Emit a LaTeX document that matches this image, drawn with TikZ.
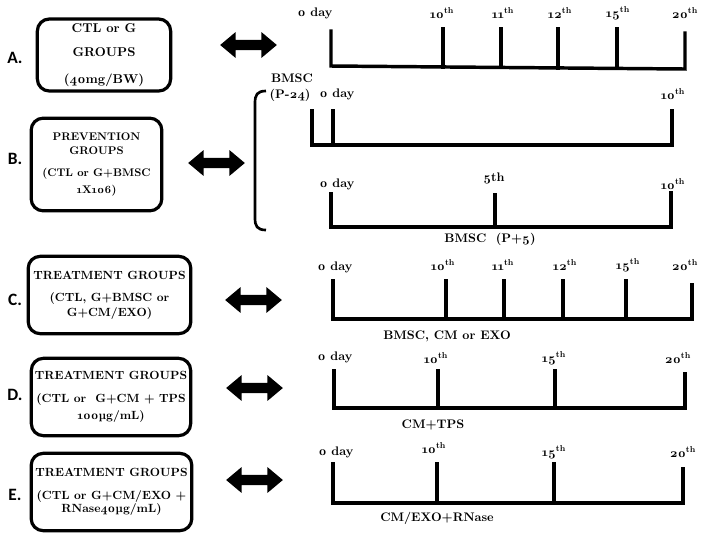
\documentclass[tikz,border=0pt]{standalone}
\usepackage{fontspec}
\setmainfont{lmroman10}[Extension=.otf, UprightFont=*-regular, BoldFont=*-bold, ItalicFont=*-italic, Numbers=OldStyle]
\newfontfamily\lblfont{Carlito}
\usetikzlibrary{shapes.arrows}
\tikzset{
  grpbox/.style={draw, line width=2.4pt, rounded corners=9pt, align=center, inner sep=0pt,
    font=\fontsize{8.9}{10}\selectfont\bfseries},
  tl/.style={line width=2.6pt, line cap=rect},
  daylbl/.style={font=\fontsize{9.3}{10}\selectfont\bfseries, inner sep=0pt},
  notelbl/.style={font=\fontsize{9.3}{10}\selectfont\bfseries, inner sep=0pt},
  rowlbl/.style={font=\lblfont\bfseries\fontsize{13}{15}\selectfont, inner sep=0pt},
  dbl/.style={double arrow, fill=black, draw=none, minimum height=42.5pt, minimum width=19pt,
    inner sep=3.7pt, double arrow head extend=5.8pt, double arrow tip angle=80},
}
\newcommand{\dth}[1]{#1\textsuperscript{th}}
\begin{document}
\begin{tikzpicture}[x=0.75pt,y=-0.75pt]
\useasboundingbox (0,0) rectangle (704,537);

% ---------- row labels ----------
\node[rowlbl] (la) at (15,58) {A.};
\node[rowlbl] (lb) at (15,159) {B.};
\node[rowlbl] (lc) at (15,300) {C.};
\node[rowlbl] (ld) at (15,395) {D.};
\node[rowlbl] (le) at (15,495) {E.};

% ---------- boxes ----------
\node[grpbox, minimum width=100pt, minimum height=54pt, font=\fontsize{9.6}{10}\selectfont\bfseries] (ba) at (104,55)
  {CTL or G\\[8pt]GROUPS\\[10.2pt](40mg/BW)};
\node[grpbox, minimum width=98pt, minimum height=69.5pt, font=\fontsize{8.3}{10}\selectfont\bfseries] (bb) at (96.5,164.5)
  {PREVENTION\\[1.2pt]GROUPS\\[6.5pt](CTL or G+BMSC\\[2.7pt]1X106)};
\node[grpbox, minimum width=122pt, minimum height=58pt] (bc) at (109.5,295)
  {TREATMENT GROUPS\\[6.5pt](CTL, G+BMSC or\\[1.2pt]G+CM/EXO)};
\node[grpbox, minimum width=119.5pt, minimum height=58pt] (bd) at (111,397)
  {TREATMENT GROUPS\\[7.5pt](CTL or \ G+CM + TPS\\[2.7pt]100µg/mL)};
\node[grpbox, minimum width=120.5pt, minimum height=58pt] (be) at (111.5,492)
  {TREATMENT GROUPS\\[7pt](CTL or G+CM/EXO +\\[0pt]RNase40µg/mL)};

% ---------- double arrows ----------
\node[dbl] (aa) at (248.5,45) {};
\node[dbl] (ab) at (216.5,163) {};
\node[dbl] (ac) at (253.5,300) {};
\node[dbl] (ad) at (254.5,388) {};
\node[dbl] (ae) at (254.5,480) {};

% ---------- timeline A ----------
\draw[tl] (331,31) -- (331,66) -- (685,69) -- (685,33);
\foreach \x/\yb in {443/67, 501/67.5, 558/68, 617/68.5}{\draw[tl] (\x,29) -- (\x,\yb);}
\node[daylbl] (a0) at (315,13) {0 day};
\node[daylbl] (a10) at (442,13) {\dth{10}};
\node[daylbl] (a11) at (503,13) {\dth{11}};
\node[daylbl] (a12) at (560,13) {\dth{12}};
\node[daylbl] (a15) at (618,13) {\dth{15}};
\node[daylbl] (a20) at (685,13) {\dth{20}};

% ---------- bracket B ----------
\draw[line width=2pt] (266,91) .. controls (257,91) and (255,95) .. (255,103) -- (255,218)
  .. controls (255,226) and (257,230) .. (266,230);
\node[notelbl] (bmsc1) at (292,78) {BMSC};
\node[notelbl] (p24) at (290,95) {(P-24)};

% timeline B1
\draw[tl] (312,111) -- (312,145) -- (672,145) -- (672,111);
\draw[tl] (333,111) -- (333,145);
\node[daylbl] (b0) at (337,94) {0 day};
\node[daylbl] (b10) at (673,94) {\dth{10}};

% timeline B2
\draw[tl] (331,194) -- (331,227) -- (671,227) -- (671,193);
\draw[tl] (495,195) -- (495,227);
\node[daylbl] (c0) at (337,184) {0 day};
\node[daylbl] (c5) at (494,178) {5th};
\node[daylbl] (c10) at (673,184) {\dth{10}};
\node[notelbl] (p5) at (490,239) {BMSC \ (P+5)};

% ---------- timeline C ----------
\draw[tl] (333,281) -- (333,319) -- (692,319) -- (692,285);
\foreach \x in {446,504,563,626}{\draw[tl] (\x,281) -- (\x,319);}
\node[daylbl] (d0) at (335,267) {0 day};
\node[daylbl] (d10) at (443,265) {\dth{10}};
\node[daylbl] (d11) at (503,265) {\dth{11}};
\node[daylbl] (d12) at (565,265) {\dth{12}};
\node[daylbl] (d15) at (628,265) {\dth{15}};
\node[daylbl] (d20) at (685,265) {\dth{20}};
\node[notelbl] (dn) at (447,336) {BMSC, CM or EXO};

% ---------- timeline D ----------
\draw[tl] (334,371) -- (334,408) -- (685,408) -- (685,374);
\foreach \x in {438,555}{\draw[tl] (\x,371) -- (\x,408);}
\node[daylbl] (e0) at (335,357) {0 day};
\node[daylbl] (e10) at (436,358) {\dth{10}};
\node[daylbl] (e15) at (554,358) {\dth{15}};
\node[daylbl] (e20) at (678,358) {\dth{20}};
\node[notelbl] (en) at (433,425) {CM+TPS};

% ---------- timeline E ----------
\draw[tl] (333,464) -- (333,503) -- (683,503) -- (683,469);
\foreach \x in {437,554}{\draw[tl] (\x,464) -- (\x,503);}
\node[daylbl] (f0) at (336,452) {0 day};
\node[daylbl] (f10) at (434,448) {\dth{10}};
\node[daylbl] (f15) at (554,452) {\dth{15}};
\node[daylbl] (f20) at (683,452) {\dth{20}};
\node[notelbl] (fn) at (437,518) {CM/EXO+RNase};
\end{tikzpicture}
\end{document}
